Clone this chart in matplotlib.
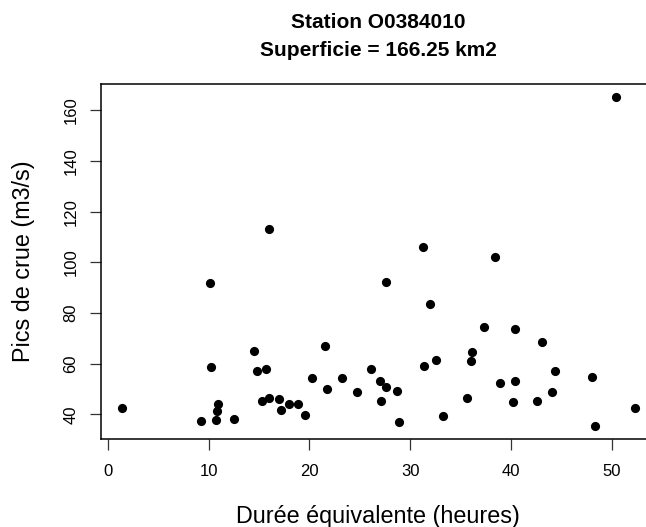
import matplotlib
matplotlib.use("Agg")
import matplotlib.pyplot as plt

plt.rcParams["font.family"] = ["Liberation Sans", "DejaVu Sans"]

# Durée équivalente (heures) vs pics de crue (m3/s)
duree = [1.36, 9.27, 10.16, 10.26, 10.7, 10.8, 10.92, 12.5, 14.5, 14.8,
         15.3, 15.7, 16.0, 16.0, 16.95, 17.15, 18.0, 18.9, 19.56, 20.3,
         21.55, 21.75, 23.2, 24.76, 26.1, 27.0, 27.1, 27.6, 27.6, 28.7,
         28.9, 31.3, 31.4, 32.0, 32.6, 33.3, 35.6, 36.0, 36.1, 37.3,
         38.4, 38.9, 40.2, 40.4, 40.4, 42.6, 43.1, 44.1, 44.4, 48.1,
         48.4, 50.4, 52.3]
pics = [42.4, 37.4, 92.0, 58.8, 37.75, 41.4, 44.2, 38.1, 65.0, 57.1,
        45.4, 57.9, 113.0, 46.4, 46.2, 41.6, 44.1, 44.1, 39.7, 54.2,
        67.2, 50.1, 54.3, 48.7, 58.0, 53.3, 45.5, 50.9, 92.3, 49.1,
        37.2, 106.0, 59.0, 83.4, 61.4, 39.3, 46.4, 61.0, 64.6, 74.7,
        102.1, 52.5, 45.0, 73.6, 53.1, 45.4, 68.5, 48.9, 57.2, 54.8,
        35.5, 165.1, 42.5]

xticks = [0, 10, 20, 30, 40, 50]
yticks = [40, 60, 80, 100, 120, 140, 160]

W, H = 646, 527
fig = plt.figure(figsize=(W / 100, H / 100), dpi=100)

# plot box in pixels (right edge runs past the image, as in the reference)
left, right, top, bottom = 101.2, 655.2, 84.3, 439.0
ax = fig.add_axes([left / W, 1 - bottom / H, (right - left) / W, (bottom - top) / H])

ax.plot(duree, pics, "o", color="black", markersize=6.6, markeredgewidth=0)

# R-style axis range: data range extended by 4 %
xr = max(duree) - min(duree)
yr = max(pics) - min(pics)
ax.set_xlim(min(duree) - 0.04 * xr, max(duree) + 0.04 * xr)
ax.set_ylim(min(pics) - 0.04 * yr, max(pics) + 0.04 * yr)

ax.set_xticks(xticks)
ax.set_yticks(yticks)
ax.set_yticklabels([str(v) for v in yticks], rotation=90, va="center")
ax.tick_params(direction="out", length=7.9, width=0.9, color="#333333",
               labelsize=12)
ax.tick_params(axis="x", pad=10)
ax.tick_params(axis="y", pad=8.5)
for sp in ax.spines.values():
    sp.set_linewidth(1.1)
    sp.set_color("black")

cx = (left + right) / 2 / W
fig.text(cx, 1 - 517 / H, "Durée équivalente (heures)", ha="center", va="center",
         fontsize=16.8)
fig.text(24 / W, 1 - ((top + bottom) / 2) / H, "Pics de crue (m3/s)", ha="center",
         va="center", rotation=90, fontsize=16.8)

fig.text(cx, 1 - 23 / H, "Station O0384010", ha="center", va="center",
         fontsize=15, fontweight="bold")
fig.text(cx, 1 - 50 / H, "Superficie = 166.25 km2", ha="center", va="center",
         fontsize=15, fontweight="bold")

fig.savefig("out.png", dpi=100)
